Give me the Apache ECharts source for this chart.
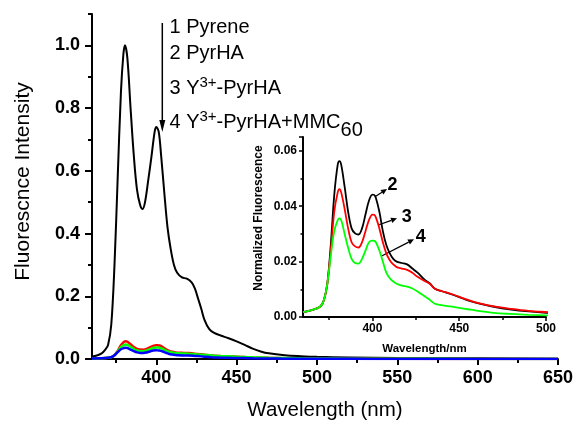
<!DOCTYPE html>
<html>
<head>
<meta charset="utf-8">
<script src="https://cdn.jsdelivr.net/npm/echarts@6/dist/echarts.min.js"></script>
<style>
  html, body { margin: 0; padding: 0; background: #fff; }
  #chart { width: 576px; height: 426px; }
</style>
</head>
<body>
<div id="chart"></div>
<script>
// Emission spectrum of pyrene (curve 1)
const pyreneNm = [360,363,366,368,370,372,374,376,378,379.5,380.5,382,384,386,388,390,391.5,393,395,397,399,400,401.5,403,405,407,409,411,413,416,419,422,424,426,428,430,433,436,440,445,450,455,460,465,470,480,490,500,520,550,600,650];
const pyrene = [0.008,0.011,0.018,0.028,0.045,0.11,0.30,0.58,0.85,0.97,1.0,0.96,0.80,0.65,0.54,0.49,0.478,0.50,0.57,0.645,0.725,0.74,0.725,0.65,0.53,0.42,0.35,0.30,0.275,0.26,0.256,0.244,0.225,0.193,0.16,0.125,0.095,0.083,0.075,0.066,0.056,0.045,0.033,0.024,0.018,0.012,0.009,0.007,0.005,0.003,0.002,0.001];

// Normalized spectra of the derivatives (curves 2-4)
const derivNm = [360,365,370,372,374,376,378,380,381,382,384,386,388,390,392,394,396,398,400,401,402,404,406,408,410,412,414,417,420,423,426,430,433,436,440,445,450,455,460,470,480,490,500,520,550,600,650];
const pyrHA = [0.0018,0.0025,0.0038,0.006,0.012,0.026,0.044,0.055,0.0563,0.055,0.047,0.038,0.032,0.0302,0.0298,0.032,0.037,0.042,0.0442,0.0441,0.043,0.038,0.031,0.026,0.023,0.021,0.020,0.0195,0.019,0.0175,0.016,0.0135,0.0122,0.0102,0.0093,0.0083,0.0072,0.006,0.0051,0.0037,0.0027,0.002,0.0015,0.0009,0.0005,0.0003,0.0002];
const yPyrHA = [0.0018,0.0025,0.0038,0.006,0.012,0.024,0.038,0.045,0.0462,0.045,0.039,0.032,0.027,0.0255,0.0251,0.027,0.031,0.035,0.037,0.0369,0.036,0.032,0.027,0.023,0.0205,0.019,0.018,0.0175,0.017,0.016,0.0145,0.013,0.012,0.0102,0.0093,0.0084,0.0073,0.0062,0.0052,0.0038,0.0029,0.0022,0.0018,0.0011,0.0006,0.0003,0.0002];
const yPyrHAMMC = [0.0018,0.0025,0.0038,0.006,0.012,0.022,0.031,0.035,0.0356,0.035,0.030,0.025,0.021,0.0195,0.0193,0.021,0.024,0.027,0.0276,0.0275,0.027,0.024,0.020,0.016,0.014,0.0128,0.012,0.0113,0.011,0.0103,0.0092,0.0075,0.0062,0.0048,0.0043,0.0038,0.0033,0.0028,0.0023,0.0015,0.0011,0.0008,0.0006,0.0004,0.0002,0.0001,0.0001];

// Axis ticks
const mainMajorX = [400,450,500,550,600,650];
const mainMinorX = [375,425,475,525,575,625];
const insetMajorX = [400,450,500];
const insetMinorX = [375,425,475];

const FONT = '"Liberation Sans", Arial, sans-serif';
const zip = (xs, ys) => xs.map((x, i) => [x, ys[i]]);

const chart = echarts.init(document.getElementById('chart'), null, { renderer: 'canvas' });

// measure text widths for the composed legend lines
const mctx = document.createElement('canvas').getContext('2d');
function textWidth(t, size) {
  mctx.font = 'normal ' + size + 'px ' + FONT;
  return mctx.measureText(t).width;
}

function legendLine(x, baseline, parts) {
  const out = [];
  let cx = x;
  parts.forEach(p => {
    const size = p.size || 20;
    let b = baseline;
    if (p.sup) b -= 7;
    if (p.sub) b += 8;
    out.push({
      type: 'text', x: cx, y: b - 0.31 * size, silent: true,
      style: { text: p.t, font: 'normal ' + size + 'px ' + FONT, fill: '#000', align: 'left', verticalAlign: 'middle' }
    });
    cx += textWidth(p.t, size);
  });
  return out;
}

function arrow(x1, y1, x2, y2, headLen, headHalf, width) {
  const dx = x2 - x1, dy = y2 - y1;
  const len = Math.sqrt(dx * dx + dy * dy);
  const ux = dx / len, uy = dy / len;
  const bx = x2 - ux * headLen, by = y2 - uy * headLen;
  return [
    { type: 'line', silent: true, shape: { x1: x1, y1: y1, x2: bx, y2: by }, style: { stroke: '#000', lineWidth: width } },
    { type: 'polygon', silent: true, shape: { points: [[x2, y2], [bx - uy * headHalf, by + ux * headHalf], [bx + uy * headHalf, by - ux * headHalf]] }, style: { fill: '#000' } }
  ];
}

const graphics = [].concat(
  legendLine(169.5, 34, [{ t: '1 Pyrene' }]),
  legendLine(169.5, 59.3, [{ t: '2 PyrHA' }]),
  legendLine(169.5, 94.3, [{ t: '3 Y' }, { t: '3+', sup: true, size: 15 }, { t: '-PyrHA' }]),
  legendLine(169.5, 129, [{ t: '4 Y' }, { t: '3+', sup: true, size: 15 }, { t: '-PyrHA+MMC' }, { t: '60', sub: true }]),
  arrow(162.3, 23, 162.3, 132, 12, 3, 1.5),
  arrow(375, 196.7, 387, 189, 6, 2.8, 1.3),
  arrow(378.3, 225, 397, 218.3, 6, 2.8, 1.3),
  arrow(381.7, 256, 414, 239.3, 6, 2.8, 1.3),
  [
    { type: 'text', x: 392.5, y: 185, silent: true, style: { text: '2', font: 'bold 18px ' + FONT, fill: '#000', align: 'center', verticalAlign: 'middle' } },
    { type: 'text', x: 406.7, y: 216.7, silent: true, style: { text: '3', font: 'bold 18px ' + FONT, fill: '#000', align: 'center', verticalAlign: 'middle' } },
    { type: 'text', x: 420.8, y: 237, silent: true, style: { text: '4', font: 'bold 18px ' + FONT, fill: '#000', align: 'center', verticalAlign: 'middle' } },
    { type: 'text', x: 258.3, y: 218, rotation: Math.PI / 2, silent: true, style: { text: 'Normalized Fluorescence', font: 'bold 12px ' + FONT, fill: '#000', align: 'center', verticalAlign: 'middle' } }
  ]
);

const axisLine = { show: true, lineStyle: { color: '#000', width: 2 } };

const option = {
  animation: false,
  backgroundColor: '#fff',
  grid: [
    { left: 92, top: 14, width: 466, height: 347 },
    { left: 303, top: 137, width: 243, height: 180 }
  ],
  xAxis: [
    {
      type: 'value', gridIndex: 0, position: 'bottom', min: 360, max: 650,
      axisLine: axisLine,
      axisTick: { show: true, customValues: mainMajorX, length: 6, lineStyle: { color: '#000', width: 2 } },
      axisLabel: { customValues: mainMajorX, color: '#000', fontFamily: FONT, fontWeight: 'bold', fontSize: 18, margin: 10 },
      splitLine: { show: false },
      name: 'Wavelength (nm)', nameLocation: 'middle', nameGap: 41,
      nameTextStyle: { color: '#000', fontFamily: FONT, fontSize: 20.5 }
    },
    {
      type: 'value', gridIndex: 0, position: 'bottom', min: 360, max: 650,
      axisLine: { show: false },
      axisTick: { show: true, customValues: mainMinorX, length: 4, lineStyle: { color: '#000', width: 2 } },
      axisLabel: { show: false },
      splitLine: { show: false }
    },
    {
      type: 'value', gridIndex: 1, position: 'bottom', min: 360, max: 500,
      axisLine: axisLine,
      axisTick: { show: true, customValues: insetMajorX, length: 4, lineStyle: { color: '#000', width: 1.5 } },
      axisLabel: { customValues: insetMajorX, color: '#000', fontFamily: FONT, fontWeight: 'bold', fontSize: 12, margin: 6 },
      splitLine: { show: false },
      name: 'Wavelength/nm', nameLocation: 'middle', nameGap: 26,
      nameTextStyle: { color: '#000', fontFamily: FONT, fontWeight: 'bold', fontSize: 11.5 }
    },
    {
      type: 'value', gridIndex: 1, position: 'bottom', min: 360, max: 500,
      axisLine: { show: false },
      axisTick: { show: true, customValues: insetMinorX, length: 3, lineStyle: { color: '#000', width: 1.5 } },
      axisLabel: { show: false },
      splitLine: { show: false }
    }
  ],
  yAxis: [
    {
      type: 'value', gridIndex: 0, position: 'left', min: 0, max: 1.1, interval: 0.2,
      axisLine: axisLine,
      axisTick: { show: true, length: 7, lineStyle: { color: '#000', width: 2 } },
      axisLabel: { color: '#000', fontFamily: FONT, fontWeight: 'bold', fontSize: 18, margin: 12, showMaxLabel: false, formatter: v => v.toFixed(1) },
      splitLine: { show: false },
      name: 'Fluorescnce Intensity', nameLocation: 'middle', nameGap: 58,
      nameTextStyle: { color: '#000', fontFamily: FONT, fontSize: 21, padding: [0, 0, 0, 10] }
    },
    {
      type: 'value', gridIndex: 0, position: 'left', min: 0, max: 1.1, interval: 0.1,
      axisLine: { show: false },
      axisTick: { show: true, length: 4, lineStyle: { color: '#000', width: 2 } },
      axisLabel: { show: false },
      splitLine: { show: false }
    },
    {
      type: 'value', gridIndex: 1, position: 'left', min: 0, max: 0.065, interval: 0.02,
      axisLine: axisLine,
      axisTick: { show: true, length: 4, lineStyle: { color: '#000', width: 1.5 } },
      minorTick: { show: true, splitNumber: 2, length: 2.5, lineStyle: { color: '#000', width: 1.5 } },
      axisLabel: { color: '#000', fontFamily: FONT, fontWeight: 'bold', fontSize: 12, margin: 6, showMaxLabel: false, formatter: v => v.toFixed(2) },
      splitLine: { show: false }
    }
  ],
  series: [
    { name: 'Pyrene', type: 'line', xAxisIndex: 0, yAxisIndex: 0, data: zip(pyreneNm, pyrene), showSymbol: false, smooth: 0.35, lineStyle: { color: '#000', width: 2 }, z: 3 },
    { name: 'PyrHA', type: 'line', xAxisIndex: 0, yAxisIndex: 0, data: zip(derivNm, pyrHA), showSymbol: false, smooth: 0.35, lineStyle: { color: '#ff0000', width: 2.5 }, z: 4 },
    { name: 'Y3+-PyrHA', type: 'line', xAxisIndex: 0, yAxisIndex: 0, data: zip(derivNm, yPyrHA), showSymbol: false, smooth: 0.35, lineStyle: { color: '#00ff00', width: 2.5 }, z: 5 },
    { name: 'Y3+-PyrHA+MMC60', type: 'line', xAxisIndex: 0, yAxisIndex: 0, data: zip(derivNm, yPyrHAMMC), showSymbol: false, smooth: 0.35, lineStyle: { color: '#0000ff', width: 2.5 }, z: 6 },
    { name: 'PyrHA (inset)', type: 'line', xAxisIndex: 2, yAxisIndex: 2, data: zip(derivNm, pyrHA), showSymbol: false, smooth: 0.35, clip: true, lineStyle: { color: '#000', width: 1.8 }, z: 4 },
    { name: 'Y3+-PyrHA (inset)', type: 'line', xAxisIndex: 2, yAxisIndex: 2, data: zip(derivNm, yPyrHA), showSymbol: false, smooth: 0.35, clip: true, lineStyle: { color: '#ff0000', width: 1.8 }, z: 5 },
    { name: 'Y3+-PyrHA+MMC60 (inset)', type: 'line', xAxisIndex: 2, yAxisIndex: 2, data: zip(derivNm, yPyrHAMMC), showSymbol: false, smooth: 0.35, clip: true, lineStyle: { color: '#00ff00', width: 1.8 }, z: 6 }
  ],
  graphic: graphics
};

chart.setOption(option);
</script>
</body>
</html>
